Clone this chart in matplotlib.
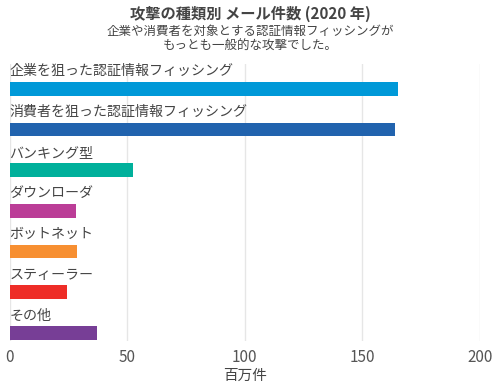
import matplotlib
matplotlib.use("Agg")
from matplotlib import pyplot as plt

plt.rcParams['font.family'] = ['Noto Sans CJK JP', 'DejaVu Sans']

categories = ["企業を狙った認証情報フィッシング", "消費者を狙った認証情報フィッシング", "バンキング型",
              "ダウンローダ", "ボットネット", "スティーラー", "その他"]
values = [165.3, 164.0, 52.3, 28.2, 28.6, 24.5, 37.0]
colors = ["#0099D8", "#2163AE", "#00B09B", "#BB3D97", "#F78F31", "#EE2D27", "#773E96"]
x_ticks = [0, 50, 100, 150, 200]

fig = plt.figure(figsize=(5, 3.88), dpi=100)
ax = fig.add_axes([9.5 / 500, 1 - 341 / 388, (480 - 9.5) / 500, (341 - 64) / 388])

positions = list(range(len(categories)))
ax.barh(positions, values, height=0.34, color=colors, zorder=2)

for pos, label in zip(positions, categories):
    ax.text(0, pos - 0.43, label, va='center', ha='left', fontsize=10.1, color='#444444')

ax.set_xlim(0, 200)
ax.set_ylim(6.2, -0.61)
ax.set_xticks(x_ticks)
ax.set_yticks([])
ax.grid(axis='x', color='#e6e6e6', linewidth=1, zorder=0)
for spine in ax.spines.values():
    spine.set_visible(False)
ax.tick_params(axis='x', length=0, labelsize=11, labelcolor='#555555', pad=6)
ax.set_xlabel("百万件", fontsize=10.5, color='#444444', labelpad=2)

fig.text(0.5, 1 - 14 / 388, "攻撃の種類別 メール件数 (2020 年)", ha='center', va='center',
         fontsize=11, fontweight='bold', color='#444444')
fig.text(0.5, 1 - 39 / 388, "企業や消費者を対象とする認証情報フィッシングが\nもっとも一般的な攻撃でした。",
         ha='center', va='center', fontsize=9, color='#444444', linespacing=1.25)

fig.savefig("out.png", dpi=100)
